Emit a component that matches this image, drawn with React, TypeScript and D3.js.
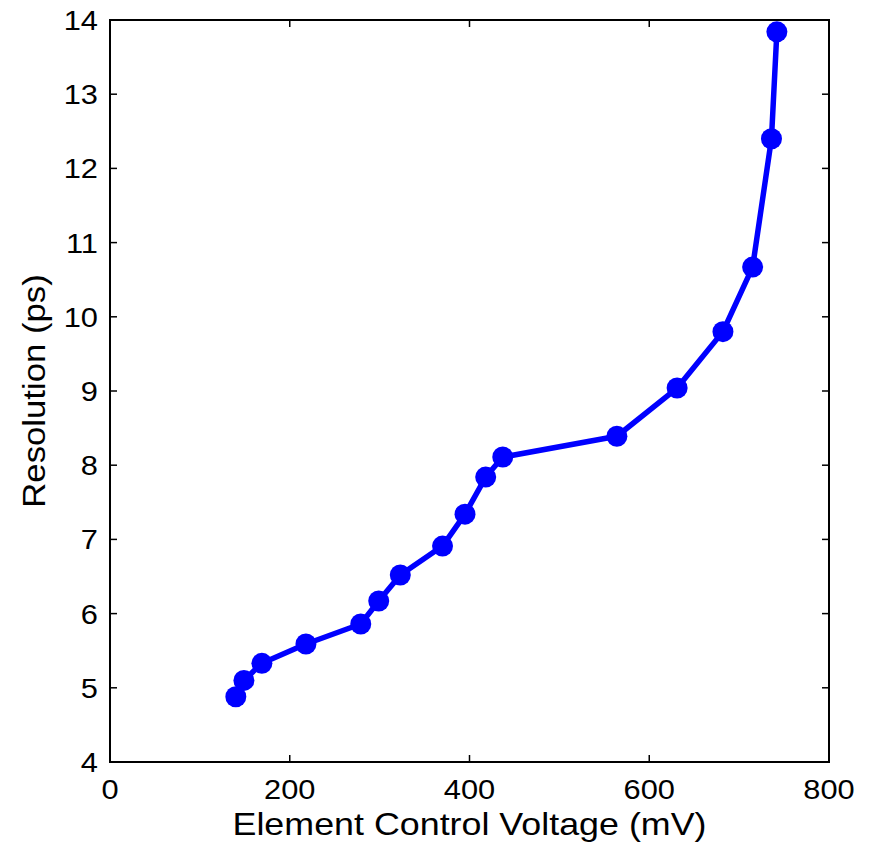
import React, { useEffect, useRef } from "react";
import * as d3 from "d3";

// values
const voltage = [140, 149, 169, 218, 279, 299, 323, 370, 395, 418, 437, 564, 631, 682, 715, 736, 742];
const resolution = [4.88, 5.1, 5.33, 5.59, 5.86, 6.17, 6.52, 6.91, 7.34, 7.84, 8.11, 8.39, 9.04, 9.8, 10.67, 12.4, 13.84];
const xTicks = [0, 200, 400, 600, 800];
const yTicks = [4, 5, 6, 7, 8, 9, 10, 11, 12, 13, 14];

const W = 869;
const H = 846;
const margin = { left: 110, right: 40, top: 20, bottom: 84 };
const FONT = "Liberation Sans, Arial, sans-serif";
const STRETCH = 1.1;

export default function App() {
  const ref = useRef<SVGSVGElement>(null);

  useEffect(() => {
    const svg = d3.select(ref.current);
    svg.selectAll("*").remove();

    const x = d3.scaleLinear().domain([0, 800]).range([margin.left, W - margin.right]);
    const y = d3.scaleLinear().domain([4, 14]).range([H - margin.bottom, margin.top]);
    const tick = 7;

    const x0 = x(0), x1 = x(800), y0 = y(4), y1 = y(14);

    // frame
    svg.append("rect")
      .attr("x", x0).attr("y", y1)
      .attr("width", x1 - x0).attr("height", y0 - y1)
      .attr("fill", "white").attr("stroke", "black").attr("stroke-width", 2);

    // inward ticks, all sides
    const tg = svg.append("g").attr("stroke", "black").attr("stroke-width", 1.5);
    xTicks.forEach(t => {
      tg.append("line").attr("x1", x(t)).attr("x2", x(t)).attr("y1", y0).attr("y2", y0 - tick);
      tg.append("line").attr("x1", x(t)).attr("x2", x(t)).attr("y1", y1).attr("y2", y1 + tick);
    });
    yTicks.forEach(t => {
      tg.append("line").attr("x1", x0).attr("x2", x0 + tick).attr("y1", y(t)).attr("y2", y(t));
      tg.append("line").attr("x1", x1).attr("x2", x1 - tick).attr("y1", y(t)).attr("y2", y(t));
    });

    // tick labels (the reference text runs a little wide)
    xTicks.forEach(t => {
      svg.append("text")
        .attr("transform", `translate(${x(t)},${y0 + 37}) scale(${STRETCH},1)`)
        .attr("text-anchor", "middle")
        .attr("font-family", FONT).attr("font-size", 28)
        .text(t);
    });
    yTicks.forEach(t => {
      svg.append("text")
        .attr("transform", `translate(${x0 - 12},${y(t) + 10}) scale(${STRETCH},1)`)
        .attr("text-anchor", "end")
        .attr("font-family", FONT).attr("font-size", 28)
        .text(t);
    });

    // axis titles
    svg.append("text")
      .attr("transform", `translate(${(x0 + x1) / 2},${H - 11}) scale(1.12,1)`)
      .attr("text-anchor", "middle")
      .attr("font-family", FONT).attr("font-size", 32)
      .text("Element Control Voltage (mV)");
    svg.append("text")
      .attr("transform", `translate(45,${(y0 + y1) / 2}) rotate(-90) scale(1.12,1)`)
      .attr("text-anchor", "middle")
      .attr("font-family", FONT).attr("font-size", 31)
      .text("Resolution (ps)");

    const pts = voltage.map((v, i) => [v, resolution[i]] as [number, number]);
    const line = d3.line<[number, number]>().x(d => x(d[0])).y(d => y(d[1]));

    svg.append("path")
      .attr("d", line(pts))
      .attr("fill", "none")
      .attr("stroke", "#0000ff")
      .attr("stroke-width", 5.5)
      .attr("stroke-linejoin", "round");

    svg.selectAll("circle.pt")
      .data(pts)
      .join("circle")
      .attr("class", "pt")
      .attr("cx", d => x(d[0]))
      .attr("cy", d => y(d[1]))
      .attr("r", 10.5)
      .attr("fill", "#0000ff");
  }, []);

  return (
    <svg ref={ref} width={W} height={H} style={{ position: "absolute", left: 0, top: 0, background: "white" }} />
  );
}
